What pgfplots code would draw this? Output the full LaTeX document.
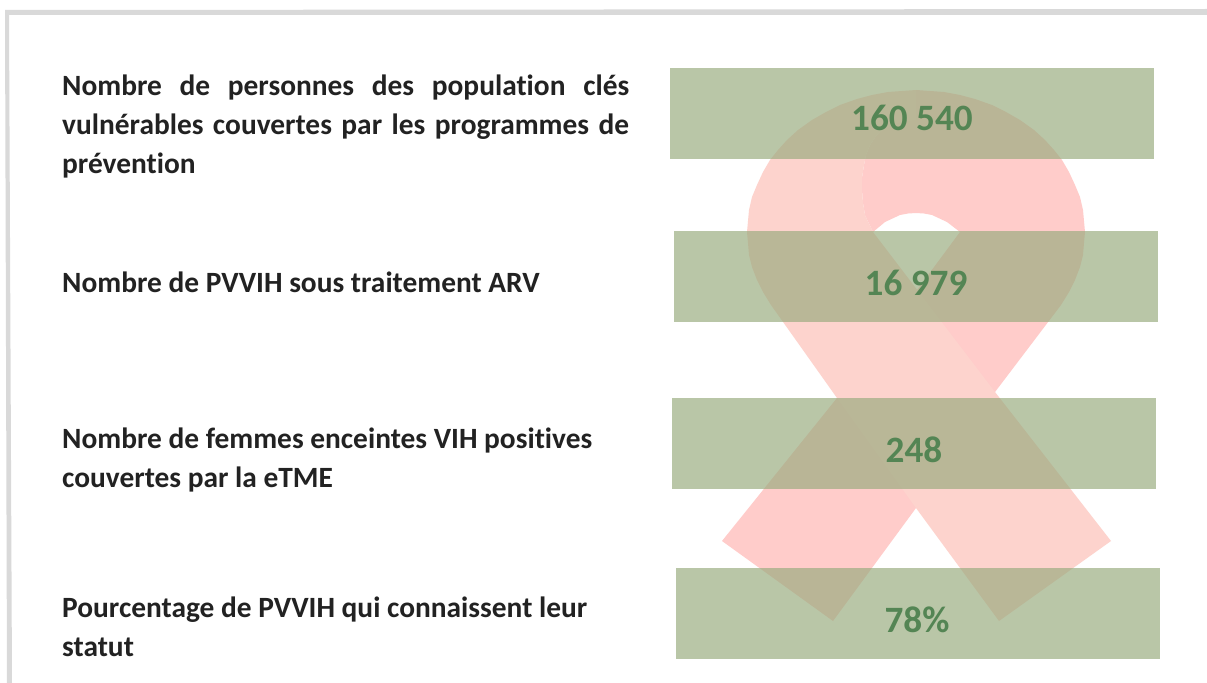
\documentclass[border=0pt]{standalone}
\usepackage{fontspec}
\setmainfont{Carlito}[Ligatures={NoCommon,NoContextual}]
\usepackage{pgfplots}
\pgfplotsset{compat=1.18}
\definecolor{bordergray}{HTML}{D9D9D9}
\definecolor{barfill}{RGB}{152,170,125}
\definecolor{bandlight}{HTML}{FDD3CD}
\definecolor{banddark}{HTML}{FFCCCA}
\definecolor{numgreen}{HTML}{548554}
\definecolor{labeltext}{HTML}{222222}
\newcommand{\lab}[2]{\node[anchor=base west,inner sep=0pt,text=labeltext,font=\fontsize{29.4bp}{34bp}\selectfont\bfseries] at (axis cs:62,#1) {#2};}
\newcommand{\just}[2]{\node[anchor=base west,inner sep=0pt,text=labeltext,font=\fontsize{29.4bp}{34bp}\selectfont\bfseries] at (axis cs:62,#1) {\makebox[567bp][s]{#2}};}
\newcommand{\num}[3]{\node[anchor=base,inner sep=0pt,text=numgreen,font=\fontsize{37.2bp}{40bp}\selectfont\bfseries] at (axis cs:#1,#2) {#3};}
\begin{document}
\begin{tikzpicture}
\begin{axis}[
    width=1207bp,
    height=683bp,
    scale only axis,
    xmin=0, xmax=1207,
    ymin=0, ymax=683,
    y dir=reverse,
    hide axis,
]
% page ground, keeps the full size in the bounding box
\addplot[fill=white,draw=none] coordinates {(0,0) (1207,0) (1207,683) (0,683)} --cycle;
% frame
\addplot[fill=bordergray,draw=none] coordinates {(5,10) (1207,9) (1207,15) (9,15) (12,683) (7,683)} --cycle;
% ribbon, back band
\addplot[fill=banddark,draw=none] coordinates {
    (722,541) (833,621) (916,508) (995,392) (1061,305) (1069,292) (1075,280) (1080,267) (1083,255) (1084,243) (1085,232)
    (1084,221) (1083,210) (1080,197) (1075,185) (1069,172) (1062,160) (1054,150) (1045,140) (1034,130) (1020,120) (1006,112)
    (992,105) (975,99) (960,95) (944,92) (916,90)
    (900,120) (885,128) (876,136) (870,145) (866,155) (864,165) (862,178) (862,190) (863,203) (865,215) (873,232)
    (885,222) (900,215) (908,213.5) (916,213) (924,213.5) (932,215) (947,222) (960,232) (837,398)} --cycle;
% ribbon, front band
\addplot[fill=bandlight,draw=none] coordinates {
    (999,621) (1111,541) (995,392) (873,232) (865,215) (863,203) (862,190) (862,178) (864,165) (866,155) (870,145) (876,136)
    (885,128) (900,122) (916,120) (916,90) (888,92) (872,95) (857,99) (840,105) (826,112) (812,120) (798,130) (787,140) (778,150) (770,160)
    (763,172) (757,185) (752,197) (749,210) (748,221) (747,232) (748,243) (749,255) (752,267) (757,280) (763,292) (771,305) (837,398) (916,508)} --cycle;
% bars
\addplot[fill=barfill,fill opacity=0.67,draw=none] coordinates {(670,68) (1154,68) (1154,159) (670,159)} --cycle;
\addplot[fill=barfill,fill opacity=0.67,draw=none] coordinates {(674,231) (1158,231) (1158,322) (674,322)} --cycle;
\addplot[fill=barfill,fill opacity=0.67,draw=none] coordinates {(672,398) (1156,398) (1156,489) (672,489)} --cycle;
\addplot[fill=barfill,fill opacity=0.67,draw=none] coordinates {(676,568) (1160,568) (1160,659) (676,659)} --cycle;
% labels
\just{95}{Nombre de personnes des population clés}
\just{134}{vulnérables couvertes par les programmes de}
\lab{173}{prévention}
\lab{292}{Nombre de PVVIH sous traitement ARV}
\lab{448}{Nombre de femmes enceintes VIH positives}
\lab{487}{couvertes par la eTME}
\lab{617}{Pourcentage de PVVIH qui connaissent leur}
\lab{656}{statut}
% values
\num{912}{130.5}{160 540}
\num{916}{295}{16 979}
\num{914}{462}{248}
\num{917}{632}{78\%}
\end{axis}
\end{tikzpicture}
\end{document}
